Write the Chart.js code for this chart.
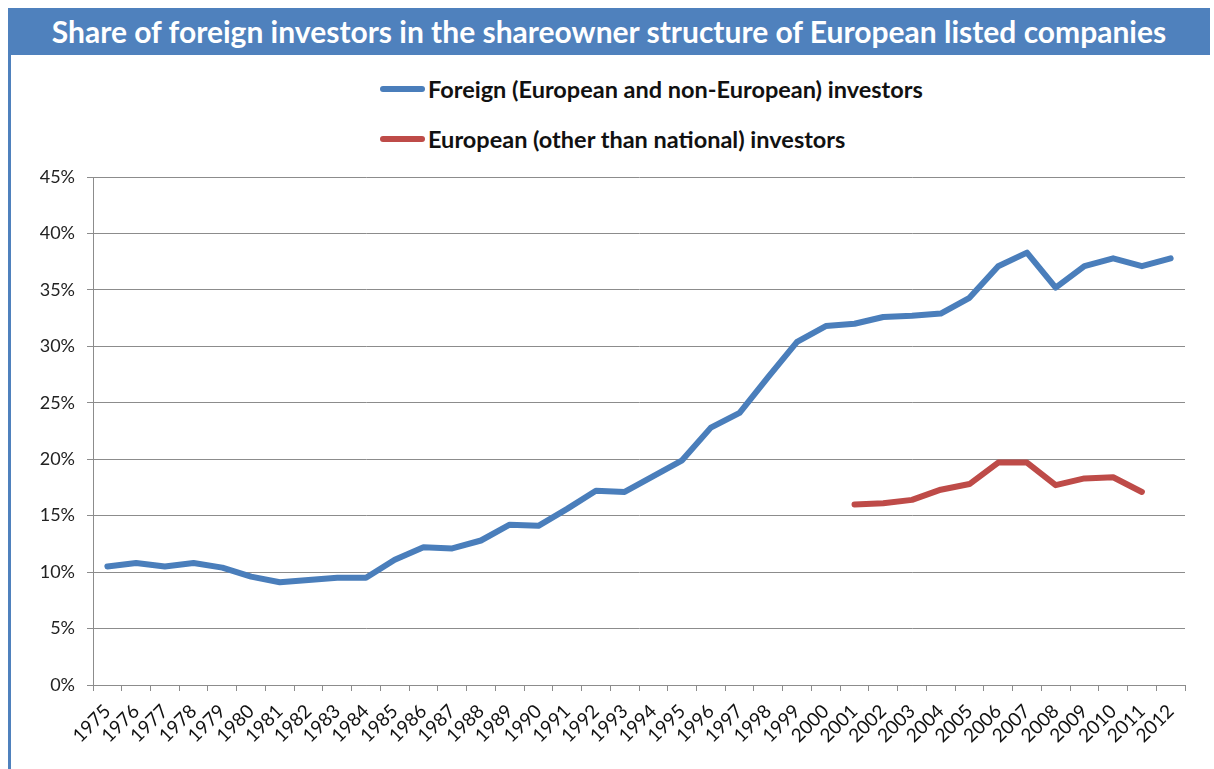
<!DOCTYPE html>
<html>
<head>
<meta charset="utf-8">
<script src="https://cdn.jsdelivr.net/npm/chart.js@4"></script>
<style>
  html, body { margin: 0; padding: 0; background: #fff; }
  body { width: 1214px; height: 769px; position: relative; overflow: hidden; font-family: Lato, "Open Sans", sans-serif; }
  #title {
    position: absolute; left: 8px; top: 8px; width: 1202px; height: 47px;
    background: #4F81BD; color: #fff; font-weight: bold; font-size: 30px;
    line-height: 47px; text-align: center;
  }
  #frame { position: absolute; left: 8px; top: 55px; width: 3px; height: 714px; background: #4F81BD; }
  #legend { position: absolute; left: 380px; top: 64px; }
  .item { display: flex; align-items: center; height: 50px; font-size: 23.5px; font-weight: bold; color: #111; }
  .swatch { width: 45px; height: 6px; border-radius: 3px; margin-right: 3px; }
  #wrap { position: absolute; left: 10px; top: 58px; width: 1200px; height: 711px; }
</style>
</head>
<body>
<div id="title">Share of foreign investors in the shareowner structure of European listed companies</div>
<div id="frame"></div>
<div id="legend"></div>
<div id="wrap"><canvas id="chart"></canvas></div>
<script>
// ---------------------------------------------------------------------------
// Data (values in %)
// ---------------------------------------------------------------------------

const years = ['1975','1976','1977','1978','1979','1980','1981','1982','1983','1984',
  '1985','1986','1987','1988','1989','1990','1991','1992','1993','1994','1995','1996',
  '1997','1998','1999','2000','2001','2002','2003','2004','2005','2006','2007','2008',
  '2009','2010','2011','2012'];

const foreign = [10.5, 10.8, 10.5, 10.8, 10.4, 9.6, 9.1, 9.3, 9.5, 9.5,
  11.1, 12.2, 12.1, 12.8, 14.2, 14.1, 15.6, 17.2, 17.1, 18.5, 19.9, 22.8,
  24.1, 27.3, 30.4, 31.8, 32.0, 32.6, 32.7, 32.9, 34.3, 37.1, 38.3, 35.2,
  37.1, 37.8, 37.1, 37.8];

const european = [null, null, null, null, null, null, null, null, null, null,
  null, null, null, null, null, null, null, null, null, null, null, null,
  null, null, null, null, 16.0, 16.1, 16.4, 17.3, 17.8, 19.7, 19.7, 17.7,
  18.3, 18.4, 17.1, null];

const yTicks = [0, 5, 10, 15, 20, 25, 30, 35, 40, 45];

const seriesNames = ['Foreign (European and non-European) investors',
  'European (other than national) investors'];
const seriesColors = ['#4A7EBB', '#BE4B48'];

// ---------------------------------------------------------------------------
// Legend (stacked, like the original)
// ---------------------------------------------------------------------------

const legend = document.getElementById('legend');
seriesNames.forEach(function (name, i) {
  const row = document.createElement('div');
  row.className = 'item';
  const sw = document.createElement('div');
  sw.className = 'swatch';
  sw.style.background = seriesColors[i];
  row.appendChild(sw);
  row.appendChild(document.createTextNode(name));
  legend.appendChild(row);
});

// ---------------------------------------------------------------------------
// Chart
// ---------------------------------------------------------------------------

const gridCol = '#8c8c8c';

new Chart(document.getElementById('chart').getContext('2d'), {
  type: 'line',
  data: {
    labels: years,
    datasets: [
      {
        label: seriesNames[0],
        data: foreign,
        borderColor: seriesColors[0],
        borderWidth: 6,
        borderCapStyle: 'round',
        borderJoinStyle: 'round',
        pointRadius: 0,
        tension: 0
      },
      {
        label: seriesNames[1],
        data: european,
        borderColor: seriesColors[1],
        borderWidth: 6,
        borderCapStyle: 'round',
        borderJoinStyle: 'round',
        pointRadius: 0,
        tension: 0
      }
    ]
  },
  options: {
    responsive: true,
    maintainAspectRatio: false,
    animation: false,
    layout: { padding: { top: 119, right: 25, left: 0, bottom: 0 } },
    plugins: { legend: { display: false }, tooltip: { enabled: false } },
    scales: {
      x: {
        offset: true,
        grid: { drawOnChartArea: false, offset: true, color: gridCol, tickLength: 6, tickColor: gridCol },
        border: { color: gridCol },
        ticks: {
          autoSkip: false, maxRotation: 45, minRotation: 45, padding: 9,
          color: '#111', font: { family: 'Lato', size: 19 }
        },
        afterFit: function (s) { s.height = 84; }
      },
      y: {
        min: 0, max: 45,
        afterBuildTicks: function (s) { s.ticks = yTicks.map(function (v) { return { value: v }; }); },
        grid: { color: gridCol, tickLength: 6, tickColor: gridCol },
        border: { color: gridCol },
        ticks: {
          padding: 12, color: '#222', font: { family: 'Lato', size: 18 },
          callback: function (v) { return v + '%'; }
        },
        afterFit: function (s) { s.width = 83; }
      }
    }
  }
});
</script>
</body>
</html>
